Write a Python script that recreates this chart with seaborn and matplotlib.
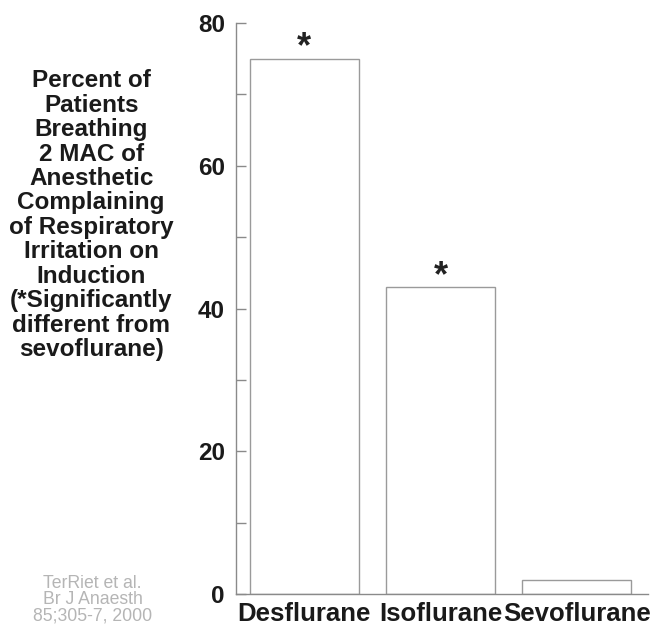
import numpy as np
import pandas as pd
import matplotlib
matplotlib.use('Agg')
import matplotlib.pyplot as plt
import seaborn as sns

# data
agents = ['Desflurane', 'Isoflurane', 'Sevoflurane']
percent = [75, 43, 2]
significant = [True, True, False]
y_ticks = [0, 20, 40, 60, 80]
y_minor = [10, 30, 50, 70]

ylabel_lines = ['Percent of', 'Patients', 'Breathing', '2 MAC of', 'Anesthetic',
                'Complaining', 'of Respiratory', 'Irritation on', 'Induction',
                '(*Significantly', 'different from', 'sevoflurane)']
citation = 'TerRiet et al.\nBr J Anaesth\n85;305-7, 2000'

sns.set_style('white')
plt.rcParams['font.family'] = ['Liberation Sans', 'DejaVu Sans']

df = pd.DataFrame({'agent': agents, 'percent': percent})

fig = plt.figure(figsize=(6.51, 6.29), dpi=100)
ax = fig.add_axes([0.3625, 0.0556, 0.6325, 0.9078])

sns.barplot(data=df, x='agent', y='percent', color='white', edgecolor='#9a9a9a',
            linewidth=1.0, width=0.8, ax=ax)

# asterisks over the bars that differ from sevoflurane
for i, (v, sig) in enumerate(zip(percent, significant)):
    if sig:
        ax.text(i, v + 0.2, '*', ha='center', va='baseline', fontsize=26,
                fontweight='bold', color='#222222')

ax.set_xlim(-0.5, 2.52)
ax.set_ylim(0, 80)
ax.set_yticks(y_ticks)
ax.set_yticks(y_minor, minor=True)
ax.set_xlabel('')
ax.set_ylabel('')

for s in ['top', 'right']:
    ax.spines[s].set_visible(False)
for s in ['left', 'bottom']:
    ax.spines[s].set_color('#8a8a8a')
    ax.spines[s].set_linewidth(1.0)

ax.tick_params(axis='y', which='both', left=True, direction='in', length=7,
               width=1.0, color='#8a8a8a')
ax.tick_params(axis='y', which='major', labelsize=17.5, pad=8)
ax.tick_params(axis='x', bottom=False, labelsize=18.5, pad=2)
for lab in ax.get_yticklabels() + ax.get_xticklabels():
    lab.set_fontweight('bold')
    lab.set_color('#1a1a1a')

fig.text(0.14, 0.890, '\n'.join(ylabel_lines), ha='center', va='top',
         fontsize=17.5, fontweight='bold', color='#1a1a1a', linespacing=1.08)
fig.text(0.142, 0.0866, citation, ha='center', va='top', fontsize=12.7,
         color='#b5b5b5', linespacing=0.97)

fig.savefig('out.png', dpi=100)
